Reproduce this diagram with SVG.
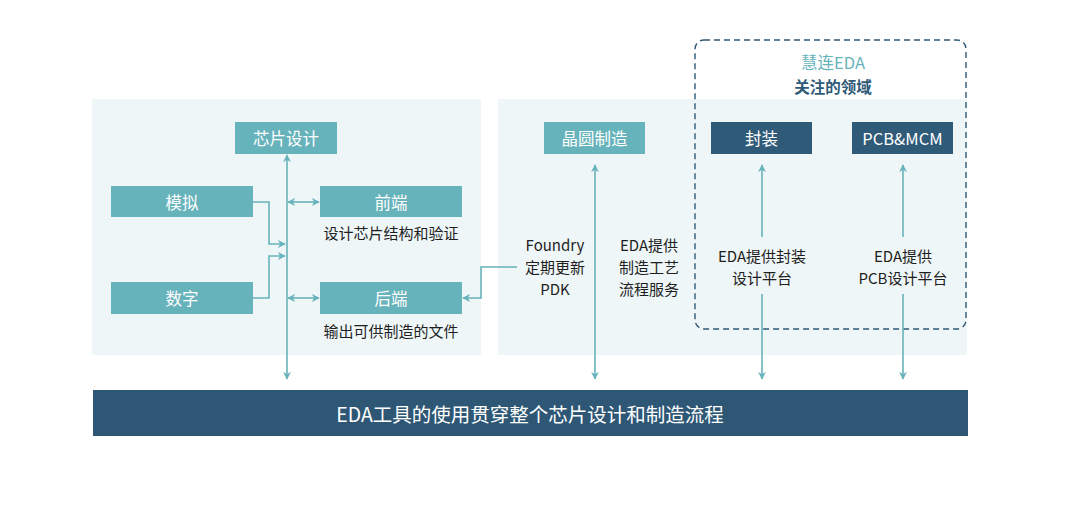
<svg xmlns="http://www.w3.org/2000/svg" width="1080" height="510" viewBox="0 0 1080 510">
<defs>
<style>
text{font-family:"Noto Sans CJK SC","Noto Sans",sans-serif;text-anchor:middle;dominant-baseline:central}
.panel{fill:#eef6f7}
.tbox{fill:#67b3bb}
.dbox{fill:#2f5a78}
.lbl{fill:#ffffff;font-size:16.5px}
.desc{fill:#1e1e1e;font-size:15px}
.ln{fill:none;stroke:#67b3bb;stroke-width:1.6}
</style>
<marker id="ah" viewBox="0 0 10 10" refX="9" refY="5" markerWidth="8" markerHeight="8" orient="auto-start-reverse" markerUnits="userSpaceOnUse">
<path d="M0,0 L10,5 L0,10 L3,5 z" fill="#67b3bb"/>
</marker>
</defs>
<rect width="1080" height="510" fill="#ffffff"/>
<g id="panels">
<rect class="panel" x="92" y="99" width="389" height="256"/>
<rect class="panel" x="498" y="99" width="469" height="256"/>
</g>
<g id="focus-area">
<rect x="695" y="40" width="271" height="289" rx="9" fill="none" stroke="#2f5a78" stroke-width="1.4" stroke-dasharray="6,4"/>
<text x="833" y="62" font-size="16.5" fill="#67b3bb">慧连EDA</text>
<text x="833" y="86" font-size="15.5" font-weight="bold" fill="#2f5a78">关注的领域</text>
</g>
<g id="connectors">
<line class="ln" x1="287" y1="155" x2="287" y2="379" marker-start="url(#ah)" marker-end="url(#ah)"/>
<line class="ln" x1="288" y1="202" x2="319" y2="202" marker-start="url(#ah)" marker-end="url(#ah)"/>
<line class="ln" x1="288" y1="298" x2="319" y2="298" marker-start="url(#ah)" marker-end="url(#ah)"/>
<path class="ln" d="M253,202 H269 V244 H285" marker-end="url(#ah)"/>
<path class="ln" d="M253,298 H269 V256 H285" marker-end="url(#ah)"/>
<path class="ln" d="M517,267 H481 V298 H463" marker-end="url(#ah)"/>
<line class="ln" x1="595" y1="165" x2="595" y2="379" marker-start="url(#ah)" marker-end="url(#ah)"/>
<line class="ln" x1="762" y1="237" x2="762" y2="165" marker-end="url(#ah)"/>
<line class="ln" x1="762" y1="294" x2="762" y2="379" marker-end="url(#ah)"/>
<line class="ln" x1="903" y1="237" x2="903" y2="165" marker-end="url(#ah)"/>
<line class="ln" x1="903" y1="294" x2="903" y2="379" marker-end="url(#ah)"/>
</g>
<g id="chip-design">
<rect class="tbox" x="235" y="122" width="102" height="32"/>
<text class="lbl" x="286" y="138">芯片设计</text>
</g>
<g id="analog">
<rect class="tbox" x="111" y="186" width="142" height="31"/>
<text class="lbl" x="182" y="201.5">模拟</text>
</g>
<g id="digital">
<rect class="tbox" x="111" y="282" width="142" height="32"/>
<text class="lbl" x="182" y="298">数字</text>
</g>
<g id="frontend">
<rect class="tbox" x="320" y="186" width="142" height="31"/>
<text class="lbl" x="391" y="201.5">前端</text>
<text class="desc" x="391" y="232">设计芯片结构和验证</text>
</g>
<g id="backend">
<rect class="tbox" x="320" y="282" width="142" height="32"/>
<text class="lbl" x="391" y="298">后端</text>
<text class="desc" x="391" y="330">输出可供制造的文件</text>
</g>
<g id="wafer">
<rect class="tbox" x="544" y="122" width="101" height="32"/>
<text class="lbl" x="594.5" y="138">晶圆制造</text>
</g>
<g id="foundry-note">
<text class="desc" x="555" y="244">Foundry</text>
<text class="desc" x="555" y="266">定期更新</text>
<text class="desc" x="555" y="288">PDK</text>
</g>
<g id="eda-process-note">
<text class="desc" x="649" y="244">EDA提供</text>
<text class="desc" x="649" y="266">制造工艺</text>
<text class="desc" x="649" y="288">流程服务</text>
</g>
<g id="packaging">
<rect class="dbox" x="711" y="122" width="101" height="32"/>
<text class="lbl" x="761.5" y="138">封装</text>
<text class="desc" x="762" y="255">EDA提供封装</text>
<text class="desc" x="762" y="277">设计平台</text>
</g>
<g id="pcb-mcm">
<rect class="dbox" x="852" y="122" width="101" height="32"/>
<text class="lbl" x="902.5" y="138">PCB&amp;MCM</text>
<text class="desc" x="903" y="255">EDA提供</text>
<text class="desc" x="903" y="277">PCB设计平台</text>
</g>
<g id="eda-bar">
<rect x="93" y="390" width="875" height="46" fill="#2e5775"/>
<text x="530" y="413" font-size="19.5" fill="#ffffff">EDA工具的使用贯穿整个芯片设计和制造流程</text>
</g>
</svg>
